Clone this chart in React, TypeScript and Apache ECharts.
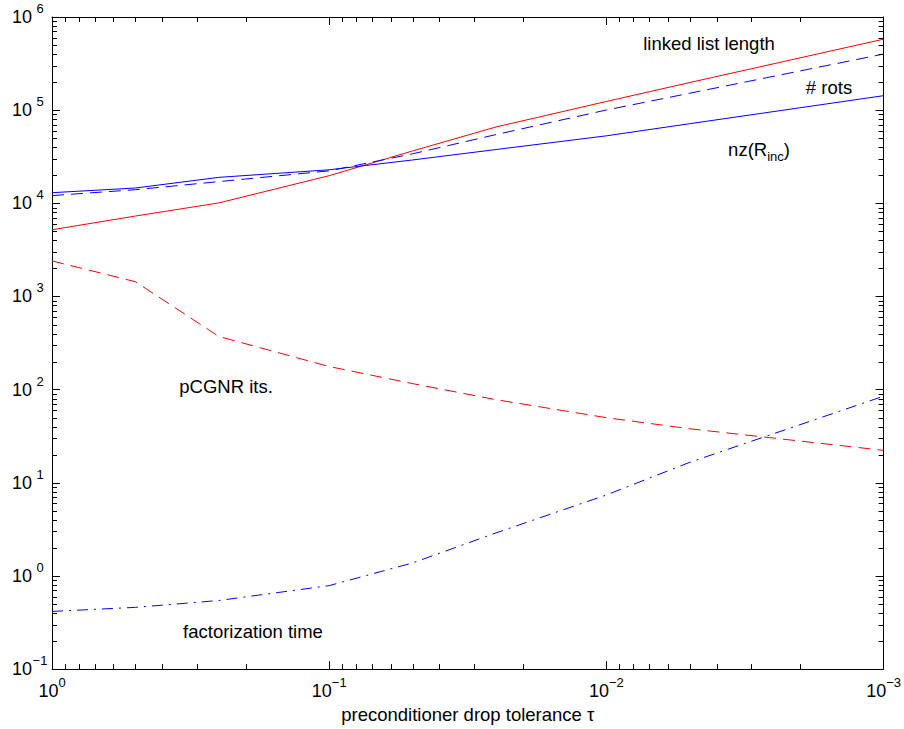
import React, { useEffect, useRef } from 'react';
import * as echarts from 'echarts';

// Drop tolerance values (x)
const tau = [1, 0.5, 0.25, 0.1, 0.05, 0.025, 0.01, 0.005, 0.001];
// Series values (y)
const linkedListLength = [5200, 7300, 10100, 19800, 36500, 66000, 124000, 198000, 578000];
const numRots = [12100, 14000, 17100, 22300, 34000, 54700, 100400, 152000, 400000];
const nzRinc = [13000, 14600, 19000, 22900, 29200, 37800, 53000, 71600, 143000];
const pcgnrIts = [2410, 1440, 372, 177, 116, 78, 50, 38, 22.3];
const factorizationTime = [0.416, 0.46, 0.545, 0.787, 1.38, 2.9, 7.4, 16.6, 85];

// Axis structure
const xRange = [0.001, 1];
const yRange = [0.1, 1000000];
const minorMantissas = [2, 3, 4, 5, 6, 7, 8, 9];
const xDecades = [0.001, 0.01, 0.1];
const yDecades = [0.1, 1, 10, 100, 1000, 10000, 100000];

const FONT = "'Liberation Sans', Arial, Helvetica, sans-serif";

const xMinor: number[] = [];
xDecades.forEach((d) => minorMantissas.forEach((m) => xMinor.push(d * m)));
const yMinor: number[] = [];
yDecades.forEach((d) => minorMantissas.forEach((m) => yMinor.push(d * m)));

const pairs = (ys: number[]) => tau.map((t, i) => [t, ys[i]]);

const expLabel = (v: number) => {
  const e = Math.round(Math.log10(v));
  const s = e < 0 ? '\u2212' + String(-e) : String(e);
  return `{b|10}{s|${s}}`;
};

export default function App() {
  const ref = useRef<HTMLDivElement>(null);
  useEffect(() => {
    if (!ref.current) return;
    const chart = echarts.init(ref.current, undefined, { renderer: 'svg' });
    const axisLine = { show: true, onZero: false, lineStyle: { color: '#000', width: 1 } };
    const axisTick = { show: true, inside: true, length: 8, lineStyle: { color: '#000', width: 1 } };
    const richX = {
      b: { fontSize: 18, lineHeight: 30, fontFamily: FONT, color: '#000' },
      s: { fontSize: 13, lineHeight: 14, verticalAlign: 'top', fontFamily: FONT, color: '#000' },
    };
    const richY = {
      b: { fontSize: 18, lineHeight: 30, fontFamily: FONT, color: '#000' },
      s: { fontSize: 13, lineHeight: 14, verticalAlign: 'top', fontFamily: FONT, color: '#000', width: 16, align: 'left' },
    };
    const baseX = {
      type: 'log', logBase: 10, min: xRange[0], max: xRange[1], inverse: true,
      axisLine, axisTick, splitLine: { show: false }, minorTick: { show: false },
    };
    const baseY = {
      type: 'log', logBase: 10, min: yRange[0], max: yRange[1],
      axisLine, axisTick, splitLine: { show: false }, minorTick: { show: false },
    };
    const lineSeries = (name: string, ys: number[], color: string, type: any) => ({
      name, type: 'line', data: pairs(ys), showSymbol: false, symbol: 'none',
      lineStyle: { color, width: 1, type }, silent: true, z: 3,
    });
    const minorStyle = { stroke: '#000', lineWidth: 1 };
    const textStyle = (text: string, rich?: any) => ({
      text, fill: '#000', font: `18.5px ${FONT}`, fontSize: 18.5, fontFamily: FONT,
      align: 'center', verticalAlign: 'middle', textAlign: 'center', textVerticalAlign: 'middle', rich,
    });
    chart.setOption({
      animation: false,
      backgroundColor: '#fff',
      grid: { left: 52, right: 20, top: 17, bottom: 56, containLabel: false },
      xAxis: [
        {
          ...baseX, position: 'bottom',
          axisLabel: { margin: 7, formatter: expLabel, rich: richX },
          name: 'preconditioner drop tolerance \u03c4', nameLocation: 'middle', nameGap: 33,
          nameTextStyle: { fontSize: 18.5, fontFamily: FONT, color: '#000' },
        },
        { ...baseX, position: 'top', axisLabel: { show: false } },
      ],
      yAxis: [
        { ...baseY, position: 'left', axisLabel: { margin: 4, formatter: expLabel, rich: richY } },
        { ...baseY, position: 'right', axisLabel: { show: false } },
      ],
      series: [
        lineSeries('linked list length', linkedListLength, '#ff0000', 'solid'),
        lineSeries('# rots', numRots, '#0000ff', [12, 7]),
        lineSeries('nz(R_inc)', nzRinc, '#0000ff', 'solid'),
        lineSeries('pCGNR its.', pcgnrIts, '#ff0000', [12, 7]),
        lineSeries('factorization time', factorizationTime, '#0000ff', [11, 6, 2, 6]),
        {
          type: 'custom', silent: true, z: 5,
          data: xMinor.map((v) => [v, 1]),
          renderItem: (params: any, api: any) => {
            const cs = params.coordSys;
            const px = Math.round(api.coord([api.value(0), 1])[0]) + 0.5;
            const bottom = cs.y + cs.height;
            return {
              type: 'group',
              children: [
                { type: 'line', shape: { x1: px, y1: bottom, x2: px, y2: bottom - 5 }, style: minorStyle },
                { type: 'line', shape: { x1: px, y1: cs.y, x2: px, y2: cs.y + 5 }, style: minorStyle },
              ],
            };
          },
        },
        {
          type: 'custom', silent: true, z: 5,
          data: yMinor.map((v) => [0.01, v]),
          renderItem: (params: any, api: any) => {
            const cs = params.coordSys;
            const py = Math.round(api.coord([0.01, api.value(1)])[1]) + 0.5;
            const right = cs.x + cs.width;
            return {
              type: 'group',
              children: [
                { type: 'line', shape: { x1: cs.x, y1: py, x2: cs.x + 5, y2: py }, style: minorStyle },
                { type: 'line', shape: { x1: right, y1: py, x2: right - 5, y2: py }, style: minorStyle },
              ],
            };
          },
        },
      ],
      graphic: [
        { type: 'text', x: 709, y: 43, style: textStyle('linked list length') },
        { type: 'text', x: 829, y: 87, style: textStyle('# rots') },
        {
          type: 'text', x: 759, y: 149,
          style: textStyle('{a|nz(R}{c|inc}{a|)}', {
            a: { fontSize: 18.5, fontFamily: FONT, color: '#000', lineHeight: 28 },
            c: { fontSize: 13, fontFamily: FONT, color: '#000', lineHeight: 14, verticalAlign: 'bottom' },
          }),
        },
        { type: 'text', x: 226, y: 386, style: textStyle('pCGNR its.') },
        { type: 'text', x: 253, y: 631, style: textStyle('factorization time') },
      ],
    });
    return () => chart.dispose();
  }, []);
  return (
    <div
      ref={ref}
      style={{ position: 'fixed', left: 0, top: 0, width: 904, height: 729, background: '#fff' }}
    />
  );
}
